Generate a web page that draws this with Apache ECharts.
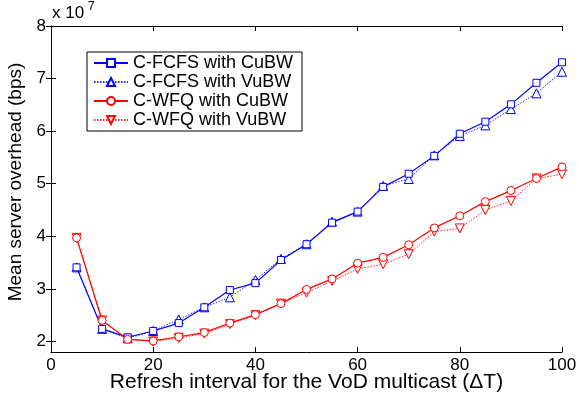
<!DOCTYPE html>
<html><head><meta charset="utf-8">
<script src="https://cdn.jsdelivr.net/npm/echarts@6/dist/echarts.min.js"></script>
<style>html,body{margin:0;padding:0;background:#fff}#c{width:579px;height:393px}</style>
</head><body><div id="c"></div>
<script>
const xValues = [5,10,15,20,25,30,35,40,45,50,55,60,65,70,75,80,85,90,95,100];
const fcfsCuBW = [3.41,2.24,2.08,2.20,2.35,2.65,2.98,3.11,3.55,3.85,4.26,4.47,4.94,5.19,5.53,5.95,6.18,6.51,6.92,7.31];
const fcfsVuBW = [3.41,2.24,2.06,2.20,2.42,2.65,2.84,3.17,3.57,3.85,4.28,4.47,4.96,5.09,5.54,5.91,6.11,6.42,6.72,7.13];
const wfqCuBW  = [3.97,2.40,2.04,2.01,2.09,2.17,2.35,2.51,2.72,2.99,3.19,3.49,3.60,3.84,4.16,4.39,4.66,4.87,5.10,5.32];
const wfqVuBW  = [3.97,2.40,2.04,2.00,2.07,2.15,2.33,2.50,2.72,2.93,3.15,3.38,3.47,3.66,4.09,4.15,4.50,4.67,5.10,5.18];
const seriesNames = ['C-FCFS with CuBW','C-FCFS with VuBW','C-WFQ with CuBW','C-WFQ with VuBW'];
const xTicks = [0,20,40,60,80,100];
const yTicks = [2,3,4,5,6,7,8];

const font = 'Liberation Sans, Arial, sans-serif';
const pair = arr => xValues.map((x,i)=>[x,arr[i]]);
function mk(name, data, color, symbol, dotted, rotate){
  return {
    name, type:'line', data: pair(data),
    symbol, symbolSize: symbol==='rect'?7:(symbol==='circle'?8:9), symbolRotate: rotate||0,
    showAllSymbol:true,
    itemStyle:{color:'#fff', borderColor:color, borderWidth:1},
    lineStyle:{color, width: dotted?1:1.2, type: dotted?[1.5,1.5]:'solid', opacity: dotted?0.85:1},
    emphasis:{disabled:true}, animation:false, z: dotted?2:3
  };
}
const chart = echarts.init(document.getElementById('c'), null, {renderer:'canvas'});
const tickStyle = {show:true, inside:true, length:5, lineStyle:{color:'#000'}};
const lineStyle = {show:true, lineStyle:{color:'#000', width:1}};
chart.setOption({
  animation:false,
  backgroundColor:'#fff',
  grid:{left:51, right:17, top:26, bottom:41, containLabel:false, outerBoundsMode:'none'},
  xAxis:[
    {type:'value', min:0, max:100, position:'bottom',
      axisLine:lineStyle, splitLine:{show:false},
      axisTick:Object.assign({customValues:xTicks}, tickStyle),
      axisLabel:{customValues:xTicks, color:'#000', fontSize:17, fontFamily:font, margin:5},
      name:'Refresh interval for the VoD multicast (\u0394T)', nameLocation:'middle', nameGap:20,
      nameMoveOverlap:false,
      nameTextStyle:{color:'#000', fontSize:21, fontFamily:font}},
    {type:'value', min:0, max:100, position:'top', axisLine:lineStyle, splitLine:{show:false},
      axisTick:Object.assign({customValues:xTicks}, tickStyle), axisLabel:{show:false}}
  ],
  yAxis:[
    {type:'value', min:1.8, max:8, position:'left',
      axisLine:lineStyle, splitLine:{show:false},
      axisTick:Object.assign({customValues:yTicks}, tickStyle),
      axisLabel:{customValues:yTicks, color:'#000', fontSize:17, fontFamily:font, margin:5},
      name:'Mean server overhead (bps)', nameLocation:'middle', nameGap:26,
      nameMoveOverlap:false,
      nameTextStyle:{color:'#000', fontSize:19, fontFamily:font, padding:[0,0,0,14]}},
    {type:'value', min:1.8, max:8, position:'right', axisLine:lineStyle, splitLine:{show:false},
      axisTick:Object.assign({customValues:yTicks}, tickStyle), axisLabel:{show:false}}
  ],
  legend:{
    orient:'vertical', left:87, top:52,
    data: seriesNames,
    backgroundColor:'#fff', borderColor:'#000', borderWidth:1,
    padding:[2,9,2,6], itemGap:1, itemWidth:34, itemHeight:10,
    textStyle:{color:'#000', fontSize:18, lineHeight:18, fontFamily:font}
  },
  graphic:[{type:'text', left:52, top:5,
    style:{text:'x 10', fill:'#000', font:'17px '+font}},
    {type:'text', left:88, top:1, style:{text:'7', fill:'#000', font:'12px '+font}}],
  series:[
    mk(seriesNames[0], fcfsCuBW, '#0000ff', 'rect', false),
    mk(seriesNames[1], fcfsVuBW, '#0000ff', 'triangle', true),
    mk(seriesNames[2], wfqCuBW, '#ff0000', 'circle', false),
    mk(seriesNames[3], wfqVuBW, '#ff0000', 'triangle', true, 180)
  ]
});
</script></body></html>
